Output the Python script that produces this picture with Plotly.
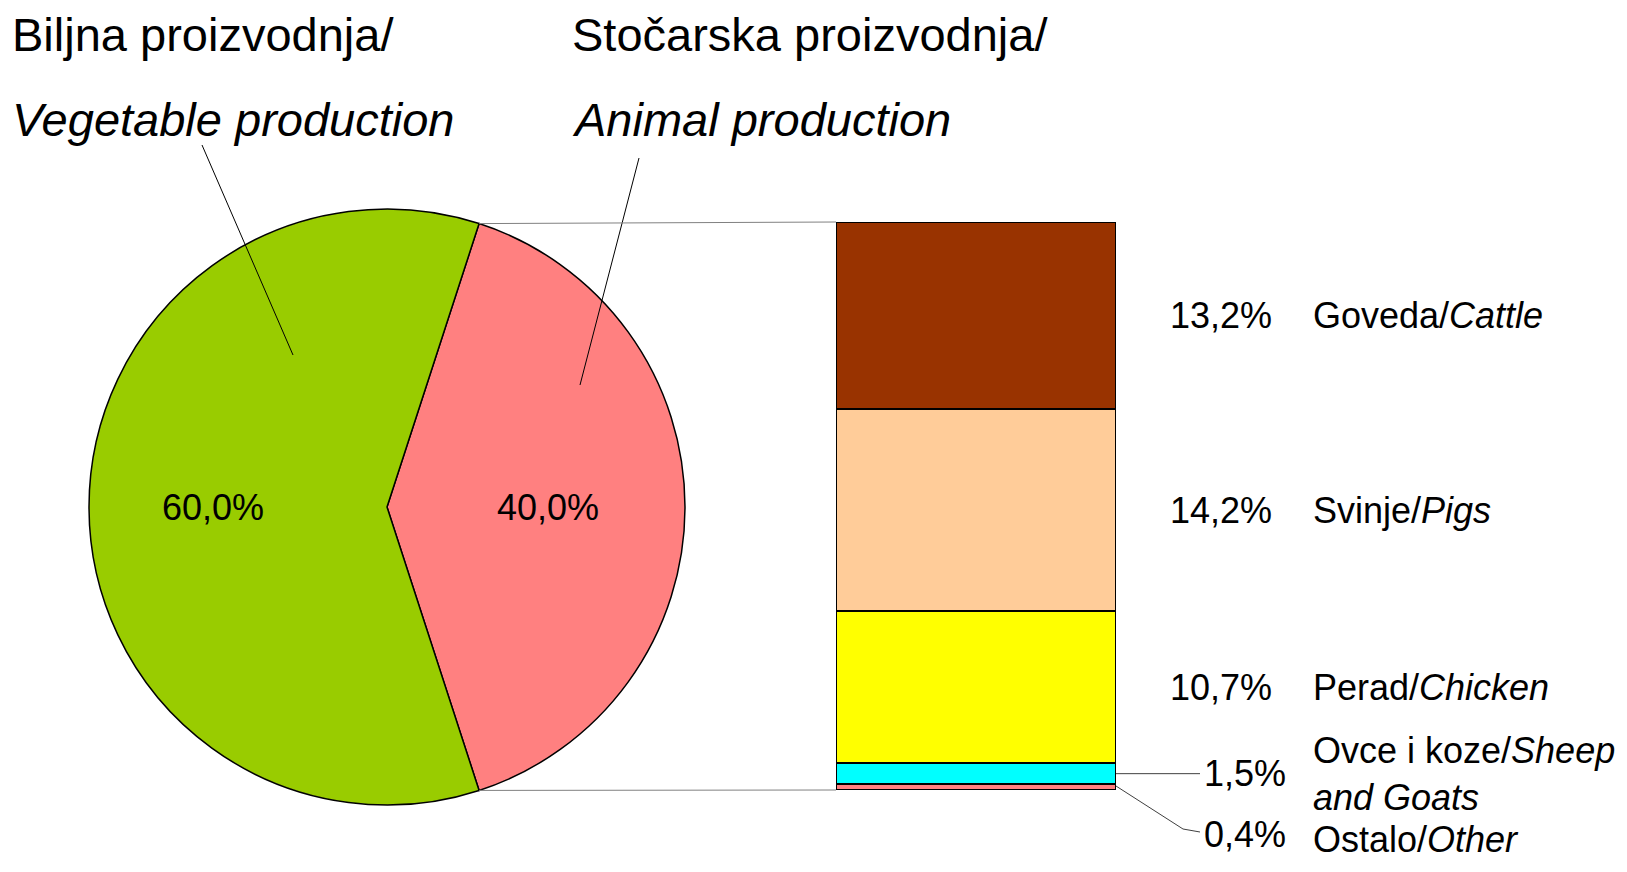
import math
import plotly.graph_objects as go

PAGE_W, PAGE_H = 1627, 872
OFF = 8  # browser body margin
W, H = PAGE_W - 2 * OFF, PAGE_H - 2 * OFF

# ---- data ----
pie_labels = ["Stočarska proizvodnja", "Biljna proizvodnja"]
pie_values = [40.0, 60.0]
pie_colors = ["#FF8080", "#99CC00"]

bar_names_hr = ["Ostalo/", "Ovce i koze/", "Perad/", "Svinje/", "Goveda/"]
bar_names_en = ["Other", "Sheep<br>and Goats", "Chicken", "Pigs", "Cattle"]
bar_values = [0.4, 1.5, 10.7, 14.2, 13.2]
bar_colors = ["#FF8080", "#00FFFF", "#FFFF00", "#FFCC99", "#993300"]

FONT = "Liberation Sans"

def X(px):
    return (px - OFF) / W

def Y(py):
    return 1 - (py - OFF) / H

# pie geometry (page pixels)
pcx, pcy, pr = 387, 507, 298
rotation = 18
# bar geometry (page pixels)
bx0, bx1, by_top, by_bot = 836, 1116, 222, 790
total_bar = sum(bar_values)

fig = go.Figure()

fig.add_trace(go.Pie(
    labels=pie_labels, values=pie_values, sort=False, direction="clockwise",
    rotation=rotation,
    marker=dict(colors=pie_colors, line=dict(color="black", width=1.5)),
    textinfo="none",
    domain=dict(x=[X(pcx - pr), X(pcx + pr)], y=[Y(pcy + pr), Y(pcy - pr)]),
    showlegend=False, hoverinfo="label+percent",
))

for name_hr, name_en, v, c in zip(bar_names_hr, bar_names_en, bar_values, bar_colors):
    fig.add_trace(go.Bar(
        x=[0], y=[v], width=1, name=name_hr,
        marker=dict(color=c, line=dict(color="black", width=2)),
        showlegend=False, xaxis="x", yaxis="y",
    ))

annotations = []
shapes = []

def pct(v):
    return f"{v:.1f}".replace(".", ",") + "%"

# pie percentage labels along slice bisectors
start = rotation
tot = sum(pie_values)
for v, rf in zip(pie_values, [0.54, 0.585]):
    span = 360 * v / tot
    mid = math.radians(start + span / 2)
    start += span
    px = pcx + rf * pr * math.sin(mid)
    py = pcy - rf * pr * math.cos(mid)
    annotations.append(dict(x=X(px), y=Y(py), xref="paper", yref="paper", text=pct(v),
                            showarrow=False, xanchor="center", yanchor="middle",
                            font=dict(family=FONT, size=36, color="black")))

# titles
titles = [
    (10, 34, "Biljna proizvodnja/"),
    (10, 119, "<i>Vegetable production</i>"),
    (570, 34, "Stočarska proizvodnja/"),
    (570, 119, "<i>Animal production</i>"),
]
for x, y, t in titles:
    annotations.append(dict(x=X(x), y=Y(y), xref="paper", yref="paper", text=t,
                            showarrow=False, xanchor="left", yanchor="middle",
                            font=dict(family=FONT, size=47, color="black")))

# leader lines from titles to slices
for (x0, y0, x1, y1) in [(202, 145, 293, 355), (639, 158, 580, 385)]:
    shapes.append(dict(type="line", xref="paper", yref="paper",
                       x0=X(x0), y0=Y(y0), x1=X(x1), y1=Y(y1),
                       line=dict(color="black", width=1)))

# connector lines from animal slice edges to bar corners
a1 = math.radians(rotation)
a2 = math.radians(rotation + 360 * pie_values[0] / tot)
for a, ty in [(a1, by_top), (a2, by_bot)]:
    px = pcx + pr * math.sin(a)
    py = pcy - pr * math.cos(a)
    shapes.append(dict(type="line", xref="paper", yref="paper",
                       x0=X(px), y0=Y(py), x1=X(bx0), y1=Y(ty),
                       line=dict(color="#808080", width=1)))

# bar labels
cum = 0
mids = []
for v in bar_values:
    mids.append(cum + v / 2)
    cum += v

LF = dict(family=FONT, size=36, color="black")
for i in (2, 3, 4):
    annotations.append(dict(x=X(1274), y=mids[i], xref="paper", yref="y", text=pct(bar_values[i]),
                            showarrow=False, xanchor="right", yanchor="middle", font=LF))
    annotations.append(dict(x=X(1311), y=mids[i], xref="paper", yref="y",
                            text=f"{bar_names_hr[i]}<i>{bar_names_en[i]}</i>",
                            showarrow=False, xanchor="left", yanchor="middle", font=LF))

# sheep and goats
annotations.append(dict(x=X(1288), y=mids[1], xref="paper", yref="y", text=pct(bar_values[1]),
                        showarrow=False, xanchor="right", yanchor="middle", font=LF))
annotations.append(dict(x=X(1311), y=mids[1], xref="paper", yref="y",
                        text=f"{bar_names_hr[1]}<i>Sheep</i><br><i>and Goats</i>",
                        showarrow=False, xanchor="left", yanchor="middle", align="left", font=LF))
shapes.append(dict(type="line", xref="paper", yref="y", x0=X(bx1), x1=X(1200),
                   y0=mids[1], y1=mids[1], line=dict(color="#404040", width=1)))

# other
annotations.append(dict(x=X(1288), y=Y(834), xref="paper", yref="paper", text=pct(bar_values[0]),
                        showarrow=False, xanchor="right", yanchor="middle", font=LF))
annotations.append(dict(x=X(1311), y=Y(839), xref="paper", yref="paper",
                        text=f"{bar_names_hr[0]}<i>{bar_names_en[0]}</i>",
                        showarrow=False, xanchor="left", yanchor="middle", font=LF))
shapes.append(dict(type="path", xref="paper", yref="paper",
                   path=f"M {X(bx1)} {Y(by_bot - 4)} L {X(1183)} {Y(829)} L {X(1200)} {Y(832)}",
                   line=dict(color="#404040", width=1)))

fig.update_layout(
    width=W, height=H,
    margin=dict(l=0, r=0, t=0, b=0),
    paper_bgcolor="white", plot_bgcolor="white",
    barmode="stack", bargap=0,
    xaxis=dict(domain=[X(bx0), X(bx1)], range=[-0.5, 0.5], visible=False, fixedrange=True),
    yaxis=dict(domain=[Y(by_bot), Y(by_top)], range=[0, total_bar], visible=False, fixedrange=True),
    annotations=annotations,
    shapes=shapes,
    font=dict(family=FONT, color="black"),
)

fig.write_html("out.html")
